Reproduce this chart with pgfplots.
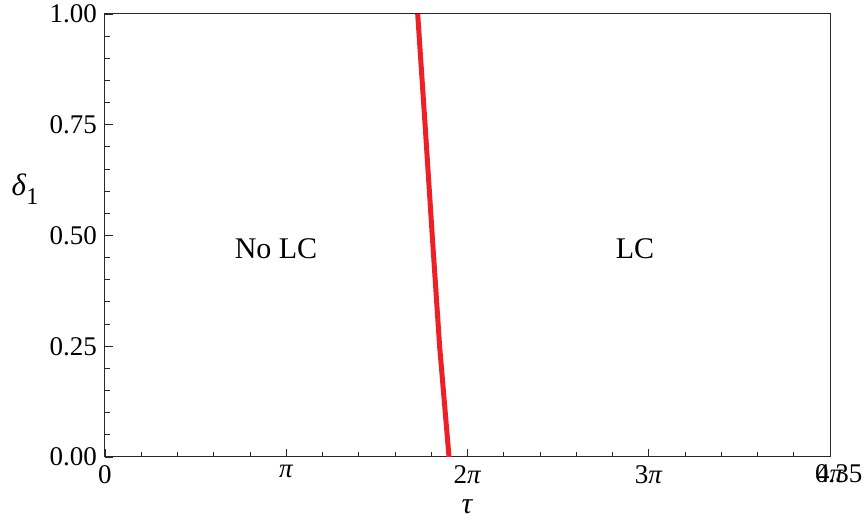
\documentclass[border=0pt]{standalone}
\usepackage{fontspec}
\setmainfont{Liberation Serif}
\usepackage{pgfplots}
\pgfplotsset{compat=1.18}
\definecolor{boundary}{RGB}{236,32,39}
\definecolor{frame}{RGB}{40,40,40}
\begin{document}
\begin{tikzpicture}
\begin{axis}[
  name=ax,
  scale only axis,
  width=725pt, height=443pt,
  xmin=0, xmax=12.566370614, ymin=0, ymax=1,
  xtick={0,3.14159265,6.28318531,9.42477796,12.56637061},
  xticklabels={0,\textit{π},2\textit{π},3\textit{π},4\textit{π}},
  minor x tick num=4,
  ytick={0,0.25,0.5,0.75,1},
  yticklabels={0.00,0.25,0.50,0.75,1.00},
  minor y tick num=4,
  tick pos=left,
  tick align=inside,
  major tick length=8pt, minor tick length=5pt,
  axis line style={line width=1pt, frame},
  every tick/.style={line width=0.9pt, frame},
  tick label style={font=\rmfamily\fontsize{27}{30}\selectfont},
  yticklabel style={inner sep=0pt, xshift=-8pt},
  xticklabel style={inner sep=0pt, yshift=-8pt},
  xlabel={\textit{τ}},
  xlabel style={font=\rmfamily\fontsize{30}{33}\selectfont, at={(axis description cs:0.5,0)}, anchor=center, yshift=-50pt},
  ylabel={\textit{δ}\raisebox{-0.28em}{\fontsize{24}{26}\selectfont 1}},
  ylabel style={font=\rmfamily\fontsize{31}{34}\selectfont, rotate=-90, at={(axis description cs:0,0.605)}, anchor=center, xshift=-80pt},
]
% stability boundary between the two regimes
\addplot[boundary, line width=5pt, line cap=butt, line join=round] coordinates {
  (5.963,0) (5.800,0.25) (5.672,0.50) (5.548,0.75) (5.420,1)
};
\node[font=\rmfamily\fontsize{30}{33}\selectfont, anchor=base] at (axis cs:2.964,0.449) {No LC};
\node[font=\rmfamily\fontsize{30}{33}\selectfont, anchor=base] at (axis cs:9.187,0.449) {LC};
\end{axis}
% stray tick label overprinted on the last x label
\node[font=\rmfamily\fontsize{27}{30}\selectfont, anchor=base west, inner sep=0pt] at ([xshift=-15pt, yshift=-26pt]ax.south east) {0.35};
\pgfresetboundingbox
\path (ax.south west) ++(-105pt,-72pt) rectangle ++(865pt,529pt);
\end{tikzpicture}
\end{document}
